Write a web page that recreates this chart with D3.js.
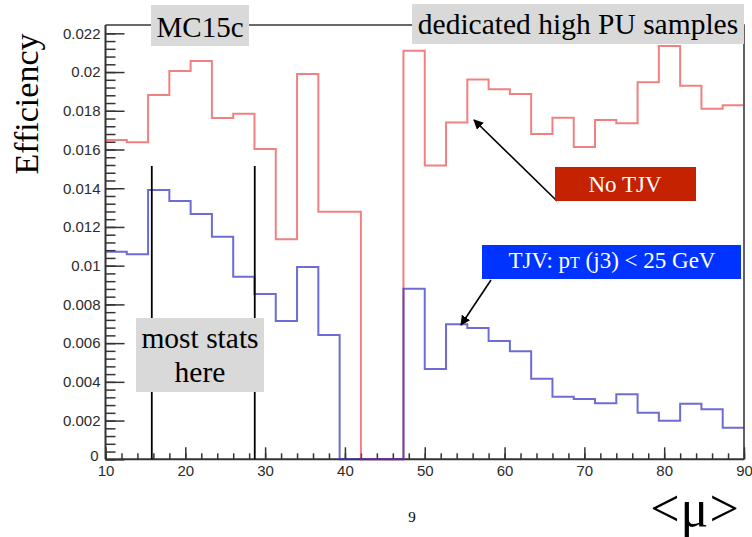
<!DOCTYPE html>
<html>
<head>
<meta charset="utf-8">
<script src="https://cdn.jsdelivr.net/npm/d3@7"></script>
<style>
  html, body { margin: 0; padding: 0; background: #fff; }
  svg { display: block; }
  .serif { font-family: "Liberation Serif", "Times New Roman", Times, serif; }
  .tick text { font-family: "Liberation Sans", Arial, Helvetica, sans-serif; font-size: 15px; fill: #2b2b2b; }
</style>
</head>
<body>
<svg id="chart" width="752" height="537"></svg>
<script>
// Bin edges of <mu> (30 bins of equal width between 10 and 90)
const binLow = 10, binHigh = 90, nBins = 30;
const binEdges = d3.range(nBins + 1).map(i => binLow + i * (binHigh - binLow) / nBins);

// Efficiency without the track-jet veto
const effNoTJV = [
  0.01649, 0.01637, 0.01881, 0.02005, 0.02057, 0.01763, 0.01785, 0.01602, 0.01136, 0.01990,
  0.01279, 0.01279, 0, 0, 0.02110, 0.01518, 0.01740, 0.01962, 0.01911, 0.01887,
  0.01680, 0.01764, 0.01613, 0.01752, 0.01735, 0.01947, 0.02134, 0.01929, 0.01811, 0.01828
];
// Efficiency with the track-jet veto (pT(j3) < 25 GeV)
const effTJV = [
  0.01072, 0.01059, 0.01391, 0.01334, 0.01267, 0.01150, 0.00943, 0.00854, 0.00714, 0.00993,
  0.00642, 0, 0, 0, 0.00881, 0.00466, 0.00697, 0.00678, 0.00611, 0.00558,
  0.00416, 0.00323, 0.00311, 0.00289, 0.00336, 0.00241, 0.00199, 0.00287, 0.00258, 0.00163
];

const xTickValues = [10, 20, 30, 40, 50, 60, 70, 80, 90];
const xMinorValues = d3.range(10, 90.001, 2);
const yTickValues = [0, 0.002, 0.004, 0.006, 0.008, 0.01, 0.012, 0.014, 0.016, 0.018, 0.02, 0.022];
const yMinorValues = d3.range(0, 0.0224, 0.0004);
const yMax = 0.02243;

// Boundaries of the high-statistics region
const statsRange = [15.8, 28.7];

const svg = d3.select("#chart");
const plotL = 105.5, plotR = 744, plotT = 25, plotB = 459.3;

const x = d3.scaleLinear().domain([binLow, binHigh]).range([plotL, plotR]);
const y = d3.scaleLinear().domain([0, yMax]).range([plotB, plotT]);

svg.append("rect").attr("width", 752).attr("height", 537).attr("fill", "#fff");

// Frame: top and right
svg.append("path")
  .attr("d", `M${plotL},${plotT}H${plotR}V${plotB}`)
  .attr("fill", "none").attr("stroke", "#3a3a3a").attr("stroke-width", 1.6);

// Axes
const fmtY = d => d === 0 ? "0" : String(+d.toFixed(3));
const gy = svg.append("g").attr("transform", `translate(${plotL},0)`);
gy.call(d3.axisLeft(y).tickValues(yMinorValues).tickSize(-10).tickFormat(""));
gy.call(g => g.select(".domain").remove());
const gy2 = svg.append("g").attr("transform", `translate(${plotL},0)`);
gy2.call(d3.axisLeft(y).tickValues(yTickValues).tickSize(-19).tickPadding(5).tickFormat(fmtY));
[gy, gy2].forEach(g => {
  g.selectAll(".tick line").attr("stroke", "#333").attr("stroke-width", 1.5);
});
gy2.select(".domain").attr("d", `M0,${plotB}V${plotT}`).attr("stroke", "#333").attr("stroke-width", 2);
// lift the zero label a little so it clears the first x label
gy2.selectAll(".tick text").filter(d => d === 0).attr("dy", "0.1em").attr("x", -7);

const gx = svg.append("g").attr("transform", `translate(0,${plotB})`);
gx.call(d3.axisBottom(x).tickValues(xMinorValues).tickSize(-6).tickFormat(""));
gx.call(g => g.select(".domain").remove());
const gx2 = svg.append("g").attr("transform", `translate(0,${plotB})`);
gx2.call(d3.axisBottom(x).tickValues(xTickValues).tickSize(-12).tickPadding(6).tickFormat(d3.format("d")));
[gx, gx2].forEach(g => {
  g.selectAll(".tick line").attr("stroke", "#333").attr("stroke-width", 1.5);
});
gx2.select(".domain").attr("d", `M${plotL},0H${plotR}`).attr("stroke", "#333").attr("stroke-width", 2);

// Histograms drawn as steps
const stepLine = d3.line().x(d => x(d[0])).y(d => y(d[1])).curve(d3.curveStepAfter);
const histPoints = vals => vals.map((v, i) => [binEdges[i], v]).concat([[binEdges[nBins], vals[nBins - 1]]]);

svg.append("path").datum(histPoints(effNoTJV))
  .attr("d", stepLine).attr("fill", "none")
  .attr("stroke", "rgb(232,45,45)").attr("stroke-opacity", 0.6).attr("stroke-width", 2);
svg.append("path").datum(histPoints(effTJV))
  .attr("d", stepLine).attr("fill", "none")
  .attr("stroke", "rgb(45,45,195)").attr("stroke-opacity", 0.7).attr("stroke-width", 2);

// High-statistics region markers
svg.selectAll(".statsLine").data(statsRange).enter().append("line")
  .attr("x1", d => x(d)).attr("x2", d => x(d))
  .attr("y1", 166).attr("y2", plotB)
  .attr("stroke", "#000").attr("stroke-width", 1.8);

// Labelled boxes
function box(x0, y0, w, h, fill) {
  svg.append("rect").attr("x", x0).attr("y", y0).attr("width", w).attr("height", h).attr("fill", fill);
}
function label(tx, ty, text, size, fill, anchor = "middle") {
  return svg.append("text").attr("class", "serif").attr("x", tx).attr("y", ty)
    .attr("text-anchor", anchor).attr("font-size", size).attr("fill", fill).text(text);
}

box(151, 5, 98, 41, "#d9d9d9");
label(200, 37, "MC15c", 29, "#000");

box(412, 4, 332, 40, "#d9d9d9");
label(578, 34, "dedicated high PU samples", 29.5, "#000");

box(136, 318, 128, 74, "#d9d9d9");
label(200, 348, "most stats", 29.5, "#000");
label(200, 382, "here", 29.5, "#000");

// Arrows
const defs = svg.append("defs");
defs.append("marker").attr("id", "arrowHead")
  .attr("viewBox", "0 0 10 10").attr("refX", 9).attr("refY", 5)
  .attr("markerWidth", 10).attr("markerHeight", 10).attr("markerUnits", "userSpaceOnUse")
  .attr("orient", "auto")
  .append("path").attr("d", "M0,0L10,5L0,10Z").attr("fill", "#000");

svg.append("line").attr("x1", 557).attr("y1", 201).attr("x2", 474).attr("y2", 120)
  .attr("stroke", "#000").attr("stroke-width", 1.6).attr("marker-end", "url(#arrowHead)");
svg.append("line").attr("x1", 491).attr("y1", 280).attr("x2", 461).attr("y2", 325)
  .attr("stroke", "#000").attr("stroke-width", 1.6).attr("marker-end", "url(#arrowHead)");

box(555, 167, 141, 34, "#c42200");
label(625, 192, "No TJV", 23, "#fff");

box(482, 245, 259, 34, "#0033ff");
const tjv = label(612, 268, "", 23, "#fff");
tjv.append("tspan").text("TJV: p");
tjv.append("tspan").attr("font-size", 16).text("T");
tjv.append("tspan").text(" (j3) < 25 GeV");

// Axis titles
label(0, 0, "Efficiency", 34, "#000")
  .attr("transform", "translate(38,104) rotate(-90)");
label(695, 526, "<\u03bc>", 52, "#000").attr("letter-spacing", 1);

// Page number
label(412, 522, "9", 15, "#000");
</script>
</body>
</html>
